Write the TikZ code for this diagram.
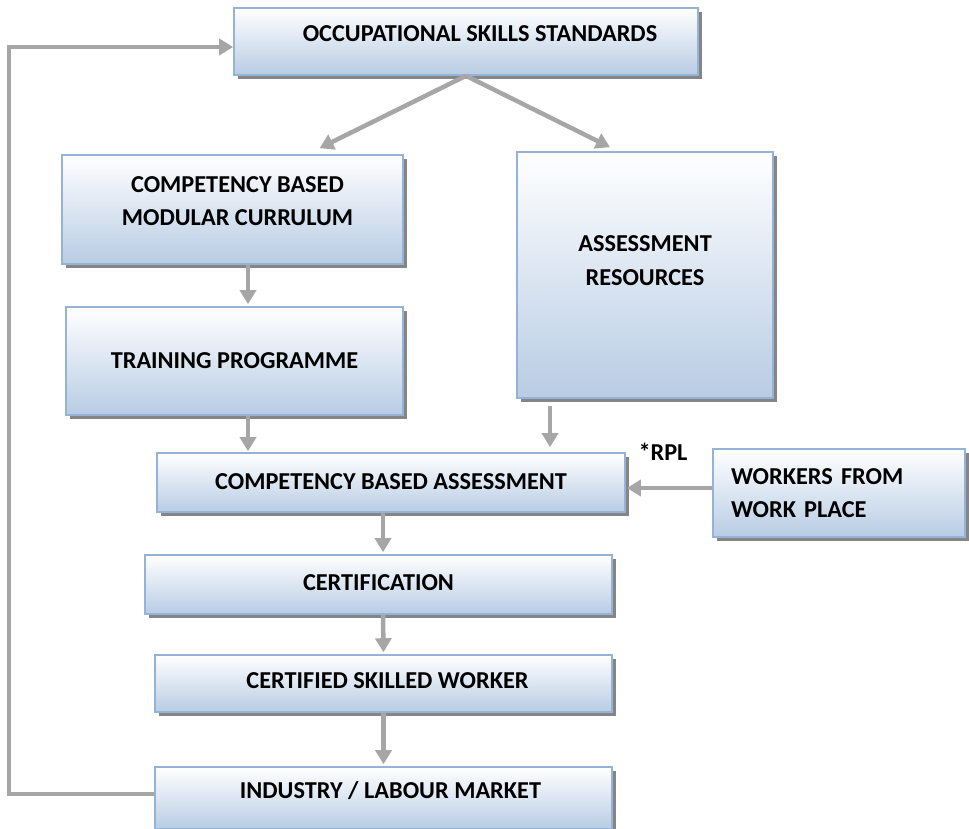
\documentclass[tikz,border=0pt]{standalone}
\usepackage{fontspec}
\setmainfont{Carlito}
\usetikzlibrary{shadows,arrows.meta}
\definecolor{bordblue}{HTML}{95B3D7}
\definecolor{fillblue}{HTML}{B8CCE4}
\definecolor{arrgray}{HTML}{A6A6A6}
\newcommand\liftby[1]{\rule[-#1]{0pt}{#1}}
\tikzset{
  box/.style={rectangle, draw=bordblue, line width=1.6pt, top color=white, bottom color=fillblue,
    drop shadow={shadow xshift=4pt, shadow yshift=-4pt, fill=gray!80!black, opacity=0.8},
    font=\fontsize{24.3}{33.5}\selectfont\bfseries, align=center, inner sep=0pt},
  arr/.style={draw=arrgray, line width=4.5pt, -{Triangle[length=14pt,width=16pt]}},
}
\begin{document}
\begin{tikzpicture}[x=1pt,y=1pt]
\useasboundingbox (0,0) rectangle (969,-829);
\node[box, minimum width=464pt, minimum height=67pt] (OSS) at (466,-41.5) {\hspace*{28pt}OCCUPATIONAL SKILLS STANDARDS\liftby{16pt}};
\node[box, minimum width=341pt, minimum height=109pt] (CBMC) at (232.5,-209.5) {\hspace*{10pt}COMPETENCY BASED\\\hspace*{10pt}MODULAR CURRULUM\liftby{17pt}};
\node[box, minimum width=256pt, minimum height=246pt] (AR) at (645,-275) {ASSESSMENT\\RESOURCES\liftby{29pt}};
\node[box, minimum width=337pt, minimum height=108pt] (TP) at (234.5,-361) {TRAINING PROGRAMME};
\node[box, minimum width=468pt, minimum height=59pt] (CBA) at (391,-482.5) {COMPETENCY BASED ASSESSMENT\liftby{2pt}};
\node[box, minimum width=252pt, minimum height=88pt, align=left, text width=216pt] (WW) at (839,-493) {WORKERS FROM\\WORK PLACE};
\node[box, minimum width=467pt, minimum height=59pt] (CERT) at (378.5,-584.5) {CERTIFICATION\liftby{4pt}};
\node[box, minimum width=457pt, minimum height=57pt] (CSW) at (383.5,-683.5) {\hspace*{8pt}CERTIFIED SKILLED WORKER\liftby{6pt}};
\node[box, minimum width=457pt, minimum height=62pt] (ILM) at (383.5,-798) {\hspace*{14pt}INDUSTRY / LABOUR MARKET\liftby{16pt}};
\node[font=\fontsize{24.3}{28}\selectfont\bfseries] (RPL) at (663,-452) {*RPL};
\coordinate (wwin) at ([yshift=5pt]WW.west);
\draw[arr] (OSS.south) -- ([xshift=87pt,yshift=6pt]CBMC.north);
\draw[arr] (OSS.south) -- ([xshift=-35pt,yshift=4pt]AR.north);
\draw[arr] ([xshift=15.5pt]CBMC.south) -- ([xshift=13.5pt,yshift=2pt]TP.north);
\draw[arr] ([xshift=13.5pt]TP.south) -- ([xshift=-143pt,yshift=1pt]CBA.north);
\draw[arr] ([xshift=-95pt,yshift=-7pt]AR.south) -- ([xshift=159pt,yshift=5pt]CBA.north);
\draw[arr] (wwin) -- ([xshift=1pt]CBA.east |- wwin);
\draw[arr] ([xshift=-8pt]CBA.south) -- ([xshift=4.5pt,yshift=2pt]CERT.north);
\draw[arr] ([xshift=4.5pt]CERT.south) -- ([yshift=2pt]CSW.north);
\draw[arr] (CSW.south) -- ([yshift=2pt]ILM.north);
\draw[arr] ([yshift=4pt]ILM.west) -- ++(-145,0) |- ([yshift=-5.5pt]OSS.west);
\end{tikzpicture}
\end{document}
